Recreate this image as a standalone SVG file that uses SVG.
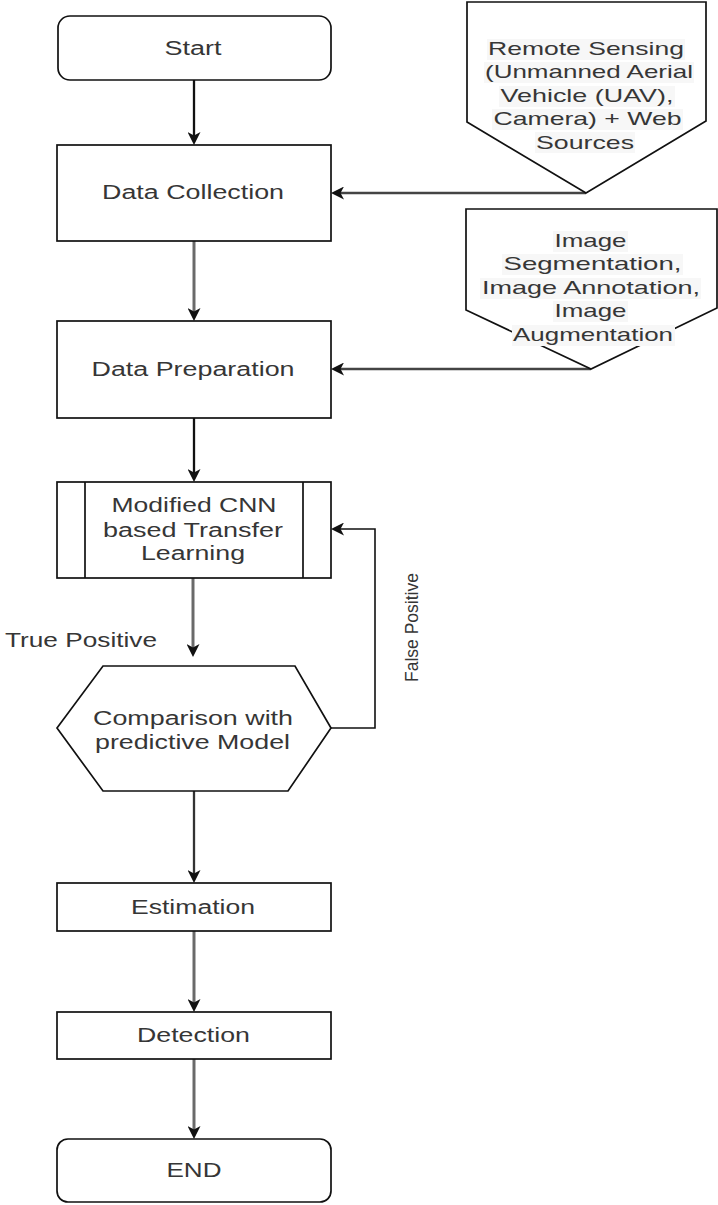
<svg xmlns="http://www.w3.org/2000/svg" width="718" height="1205" viewBox="0 0 718 1205">
<style>
.box{fill:#fff;stroke:#111;stroke-width:1.7}
.t{font-family:"Liberation Sans",Arial,sans-serif;font-size:20px;fill:#363636;text-anchor:middle}
.s{font-size:19px}
.bg{fill:#f7f7f7}
.cb{fill:none;stroke:#111;stroke-width:2.3}
.cg{fill:none;stroke:#6a6a6a;stroke-width:3}
.cf{fill:none;stroke:#111;stroke-width:1.6}
</style>
<defs>
<marker id="ab" viewBox="0 0 13 13" markerWidth="13" markerHeight="13" refX="5" refY="6.5" orient="auto" markerUnits="userSpaceOnUse"><path d="M0,0 L13,6.5 L0,13 L3.5,6.5 Z" fill="#111"/></marker>
</defs>
<rect width="718" height="1205" fill="#fff"/>
<g id="connectors">
<path class="cb" d="M194,80 V137" marker-end="url(#ab)"/>
<path class="cg" d="M194,241 V313" marker-end="url(#ab)"/>
<path class="cb" d="M194,418 V474" marker-end="url(#ab)"/>
<path class="cg" d="M193,578 V649" marker-end="url(#ab)"/>
<path class="cb" d="M194,791 V875" style="stroke:#333" marker-end="url(#ab)"/>
<path class="cg" d="M194,931 V1004" marker-end="url(#ab)"/>
<path class="cg" d="M194,1059 V1131" marker-end="url(#ab)"/>
<path class="cb" d="M586,193 H339" style="stroke:#444" marker-end="url(#ab)"/>
<path class="cb" d="M591,369 H339" style="stroke:#444" marker-end="url(#ab)"/>
<path class="cf" d="M331,728 H375 V529 H339" marker-end="url(#ab)"/>
<text class="t" x="81" y="647" textLength="152" lengthAdjust="spacingAndGlyphs">True Positive</text>
<text class="t" transform="translate(418,627.5) rotate(-90)" x="0" y="0" textLength="109" lengthAdjust="spacingAndGlyphs" style="font-size:19px">False Positive</text>
</g>
<g id="start">
<rect class="box" x="58" y="16" width="273" height="64" rx="12"/>
<text class="t" x="193" y="55" textLength="57" lengthAdjust="spacingAndGlyphs">Start</text>
</g>
<g id="data-collection">
<rect class="box" x="57" y="145" width="274" height="96"/>
<text class="t" x="193" y="199" textLength="182" lengthAdjust="spacingAndGlyphs">Data Collection</text>
</g>
<g id="data-preparation">
<rect class="box" x="57" y="321" width="274" height="97"/>
<text class="t" x="193" y="375.5" textLength="203" lengthAdjust="spacingAndGlyphs">Data Preparation</text>
</g>
<g id="cnn">
<rect class="box" x="57" y="482" width="274" height="96"/>
<line class="box" x1="85" y1="482" x2="85" y2="578"/>
<line class="box" x1="303" y1="482" x2="303" y2="578"/>
<text class="t" x="194" y="512" textLength="165" lengthAdjust="spacingAndGlyphs">Modified CNN</text>
<text class="t" x="193" y="536.5" textLength="180" lengthAdjust="spacingAndGlyphs">based Transfer</text>
<text class="t" x="193" y="560" textLength="104" lengthAdjust="spacingAndGlyphs">Learning</text>
</g>
<g id="comparison">
<polygon class="box" points="57,728 103,666 295,666 331,728 288,791 103,791"/>
<text class="t" x="193" y="725" textLength="200" lengthAdjust="spacingAndGlyphs">Comparison with</text>
<text class="t" x="192.5" y="748.5" textLength="195" lengthAdjust="spacingAndGlyphs">predictive Model</text>
</g>
<g id="estimation">
<rect class="box" x="57" y="883" width="274" height="48"/>
<text class="t" x="193" y="913.5" textLength="124" lengthAdjust="spacingAndGlyphs">Estimation</text>
</g>
<g id="detection">
<rect class="box" x="57" y="1012" width="274" height="47"/>
<text class="t" x="193.5" y="1041.5" textLength="113" lengthAdjust="spacingAndGlyphs">Detection</text>
</g>
<g id="end">
<rect class="box" x="57" y="1139" width="274" height="63" rx="11"/>
<text class="t" x="194" y="1177" textLength="55" lengthAdjust="spacingAndGlyphs">END</text>
</g>
<g id="remote-sensing">
<polygon class="box" points="467,2 706,2 706,121 586,193 467,122"/>
<rect class="bg" x="487" y="39" width="198" height="21"/>
<rect class="bg" x="484" y="62" width="210" height="21"/>
<rect class="bg" x="499" y="86" width="176" height="21"/>
<rect class="bg" x="492" y="109" width="191" height="21"/>
<rect class="bg" x="535" y="132" width="100" height="21"/>
<text class="t s" x="586" y="55" textLength="196" lengthAdjust="spacingAndGlyphs">Remote Sensing</text>
<text class="t s" x="589" y="78" textLength="208" lengthAdjust="spacingAndGlyphs">(Unmanned Aerial</text>
<text class="t s" x="587" y="101.5" textLength="173" lengthAdjust="spacingAndGlyphs">Vehicle (UAV),</text>
<text class="t s" x="587.5" y="125" textLength="188" lengthAdjust="spacingAndGlyphs">Camera) + Web</text>
<text class="t s" x="585" y="148.5" textLength="98" lengthAdjust="spacingAndGlyphs">Sources</text>
</g>
<g id="image-processing">
<polygon class="box" points="466,209 717,209 717,308 591,369 466,310"/>
<rect class="bg" x="553" y="231" width="75" height="21"/>
<rect class="bg" x="502" y="254" width="181" height="21"/>
<rect class="bg" x="480" y="278" width="221" height="21"/>
<rect class="bg" x="553" y="301" width="75" height="21"/>
<rect class="bg" x="512" y="325" width="163" height="21"/>
<text class="t s" x="590.5" y="246.5" textLength="72" lengthAdjust="spacingAndGlyphs">Image</text>
<text class="t s" x="592.5" y="270" textLength="178" lengthAdjust="spacingAndGlyphs">Segmentation,</text>
<text class="t s" x="591" y="293.5" textLength="218" lengthAdjust="spacingAndGlyphs">Image Annotation,</text>
<text class="t s" x="590.5" y="317" textLength="72" lengthAdjust="spacingAndGlyphs">Image</text>
<text class="t s" x="593" y="340.5" textLength="160" lengthAdjust="spacingAndGlyphs">Augmentation</text>
</g>
</svg>
